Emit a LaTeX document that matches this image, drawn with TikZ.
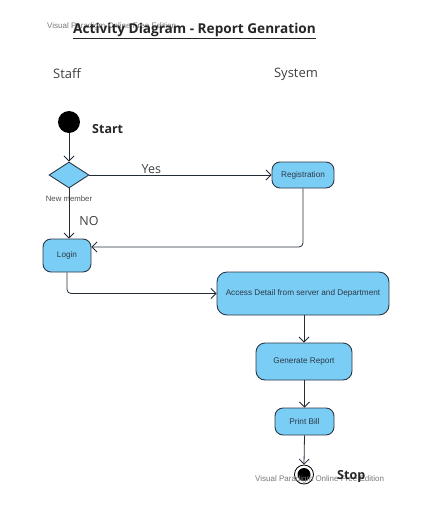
\documentclass[tikz,border=0pt]{standalone}
\usepackage{fontspec}
\setmainfont{Open Sans}
\newfontfamily\arialf{Liberation Sans}
\usetikzlibrary{arrows.meta,shapes.geometric}
\definecolor{actfill}{RGB}{122,206,245}
\definecolor{actline}{RGB}{45,55,70}
\definecolor{wm}{RGB}{120,120,120}
\tikzset{
  act/.style={draw=actline,fill=actfill,line width=0.9pt,rounded corners=8pt,font=\arialf\fontsize{8.2}{10}\selectfont,text=actline,inner sep=0pt,anchor=center},
  flow/.style={draw=actline!80!black,line width=0.8pt,-{Straight Barb[length=5pt,width=10pt]}},
  lab/.style={font=\fontsize{12.5}{14}\selectfont,text=black!75,inner sep=0pt},
  wmark/.style={font=\arialf\fontsize{8}{9}\selectfont,text=wm,inner sep=0pt},
}
\begin{document}
\begin{tikzpicture}[x=1pt,y=-1pt]
\useasboundingbox (0,0) rectangle (430,512);
% watermark + title
\node[wmark,anchor=west] (wm1) at (47,26) {Visual Paradigm Online Free Edition};
\node[font=\bfseries\fontsize{13.6}{15}\selectfont,text=black!85,inner sep=0pt] (title) at (194.5,31) {\underline{Activity Diagram - Report Genration}};
% lanes
\node[lab,font=\fontsize{13}{15}\selectfont] (staff) at (67,74) {Staff};
\node[lab,font=\fontsize{13}{15}\selectfont] (system) at (296,74) {System};
% start
\node[circle,fill=black,minimum size=22pt,inner sep=0pt] (start) at (69,122) {};
\node[font=\bfseries\fontsize{12.5}{14}\selectfont,text=black!85,inner sep=0pt,anchor=west] (startl) at (92,129) {Start};
% decision
\node[diamond,draw=actline,fill=actfill,line width=0.9pt,minimum width=40pt,minimum height=26pt,inner sep=0pt,aspect=1.54] (dec) at (69,175) {};
\node[font=\arialf\fontsize{7.8}{9}\selectfont,text=black!70,inner sep=0pt] (decl) at (69,198.5) {New member};
% activities
\node[act,minimum width=62pt,minimum height=26pt] (reg) at (303,175) {Registration};
\node[act,minimum width=48pt,minimum height=33pt] (login) at (67,255.5) {Login};
\node[act,rounded corners=10pt,minimum width=172pt,minimum height=43pt] (acc) at (303,293.5) {Access Detail from server and Department};
\node[act,rounded corners=9pt,minimum width=96pt,minimum height=37pt] (gen) at (304,361.5) {Generate Report};
\node[act,minimum width=59pt,minimum height=27pt] (bill) at (304.5,421.5) {Print Bill};
% stop
\node[circle,draw=black,line width=0.8pt,fill=white,minimum size=19pt,inner sep=0pt] (stop) at (304,474.5) {};
\node[circle,fill=black,minimum size=13pt,inner sep=0pt] (stopin) at (stop.center) {};
\node[wmark,anchor=west] (wm2) at (255,479.5) {Visual Paradigm Online Free Edition};
\node[font=\bfseries\fontsize{12.5}{14}\selectfont,text=black!85,inner sep=0pt,anchor=west] (stopl) at (337,476) {Stop};
% flows
\draw[flow] (start) -- (dec);
\draw[flow] (dec.east) -- node[lab,above=1pt,pos=0.34] (yes) {Yes} (reg.west);
\draw[flow] (dec.south) -- node[lab,right=10pt,pos=0.65] (no) {NO} (dec.south |- login.north);
\coordinate (c1) at (303,247);
\draw[flow,rounded corners=4pt] (reg.south) -- (c1) -- (login.east |- c1);
\coordinate (c2) at (67,293.5);
\draw[flow,rounded corners=4pt] (login.south) -- (c2) -- (acc.west);
\draw[flow] (acc.south -| gen.north) -- (gen.north);
\draw[flow] (gen.south -| bill.north) -- (bill.north);
\draw[flow] (bill.south) -- (stop.north);
\end{tikzpicture}
\end{document}
